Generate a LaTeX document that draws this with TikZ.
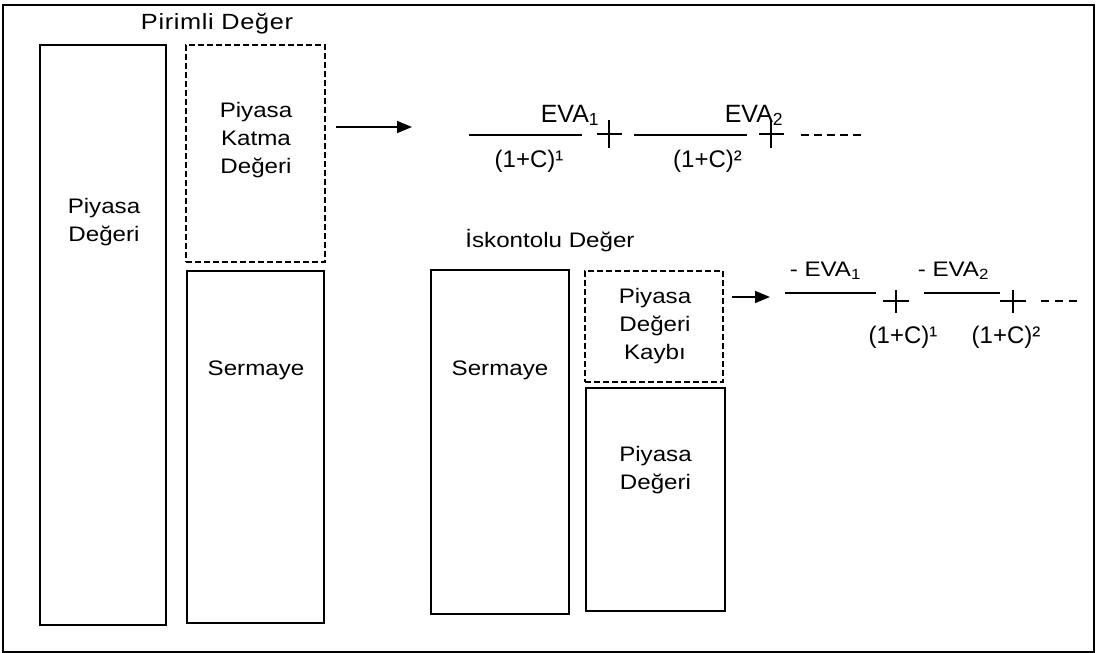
\documentclass[tikz,border=0pt]{standalone}
\usepackage{fontspec}
\setmainfont{Liberation Sans}
\newfontfamily\boxfont{Liberation Sans}[FakeStretch=1.15]
\newfontfamily\titlefont{Liberation Sans}[FakeStretch=1.15,LetterSpace=3]
\usetikzlibrary{arrows.meta,positioning,calc}

\begin{document}
\begin{tikzpicture}[x=1pt, y=-1pt,
  valuebox/.style={draw, line width=1.6pt, inner sep=0pt, outer sep=0pt},
  gainbox/.style={valuebox, dash pattern=on 6pt off 3pt},
  lbl/.style={font=\boxfont\fontsize{21}{28}\selectfont, align=center, inner sep=0pt},
  ttl/.style={font=\titlefont\fontsize{22}{28}\selectfont, inner sep=0pt},
  fracnum/.style={font=\fontsize{25}{28}\selectfont, inner sep=0pt},
  fracsmall/.style={font=\boxfont\fontsize{21}{24}\selectfont, inner sep=0pt},
  fracden/.style={font=\fontsize{24}{28}\selectfont, inner sep=0pt},
  >={Triangle[length=15pt,width=12pt]}, line width=1.6pt
]
  \useasboundingbox (0,0) rectangle (1096,653);
  \draw[line width=2.2pt] (3,5) rectangle (1094,652);

  % pirimli deger
  \node[ttl, anchor=base] (titleP) at (217,29) {Pirimli Değer};
  \node[valuebox, minimum width=126, minimum height=580] (pdA) at (103,335) {};
  \node[gainbox, minimum width=139, minimum height=217]  (pkd) at (255.5,153.5) {};
  \node[valuebox, minimum width=137, minimum height=352] (smA) at (255.5,447) {};
  \node[lbl] (pdAt)  at (104,222) {Piyasa\\Değeri};
  \node[lbl] (pkdt)  at (256,140) {Piyasa\\Katma\\Değeri};
  \node[lbl, anchor=base] (smAt) at (256,375) {Sermaye};

  % iskontolu deger
  \node[lbl, anchor=base] (titleI) at (550,247) {İskontolu Değer};
  \node[valuebox, minimum width=138, minimum height=344] (smB) at (500,442) {};
  \node[gainbox, minimum width=138, minimum height=111]  (pdk) at (654,326.5) {};
  \node[valuebox, minimum width=139, minimum height=223] (pdB) at (655.5,499.5) {};
  \node[lbl, anchor=base] (smBt) at (500,375) {Sermaye};
  \node[lbl] (pdkt) at (655,326) {Piyasa\\Değeri\\Kaybı};
  \node[lbl] (pdBt) at (655.5,470) {Piyasa\\Değeri};

  % arrows
  \coordinate (arrAs) at (336,127);
  \coordinate (arrAe) at (412,127);
  \coordinate (arrBs) at (732,297);
  \coordinate (arrBe) at (770,297);
  \draw[->] (arrAs) -- (arrAe);
  \draw[->] (arrBs) -- (arrBe);

  % upper sum
  \draw (469,135) -- (582,135);
  \draw (634,135) -- (747,135);
  \node[fracnum, anchor=base east] (evaA) at (600,122) {EVA\textsubscript{1}};
  \node[fracnum, anchor=base east] (evaB) at (784,122) {EVA\textsubscript{2}};
  \node[fracden] (denA) at (529,161.5) {(1+C)¹};
  \node[fracden] (denB) at (707.5,161.5) {(1+C)²};
  \foreach \px in {609,771}
    \draw (\px-12.5,134) -- (\px+12.5,134) (\px,120) -- (\px,148);
  \draw[dash pattern=on 8pt off 5pt] (801,135) -- (862,135);

  % lower sum
  \draw (785,293) -- (876,293);
  \draw (924,293) -- (1000,293);
  \node[fracsmall, anchor=base west] (evaC) at (789,276) {- EVA\textsubscript{1}};
  \node[fracsmall, anchor=base west] (evaD) at (917,276) {- EVA\textsubscript{2}};
  \node[fracden] (denC) at (903,337) {(1+C)¹};
  \node[fracden] (denD) at (1006,337) {(1+C)²};
  \foreach \px in {896,1013}
    \draw (\px-13,301) -- (\px+13,301) (\px,290) -- (\px,313);
  \draw[dash pattern=on 8pt off 6pt] (1041,301) -- (1080,301);
\end{tikzpicture}
\end{document}
